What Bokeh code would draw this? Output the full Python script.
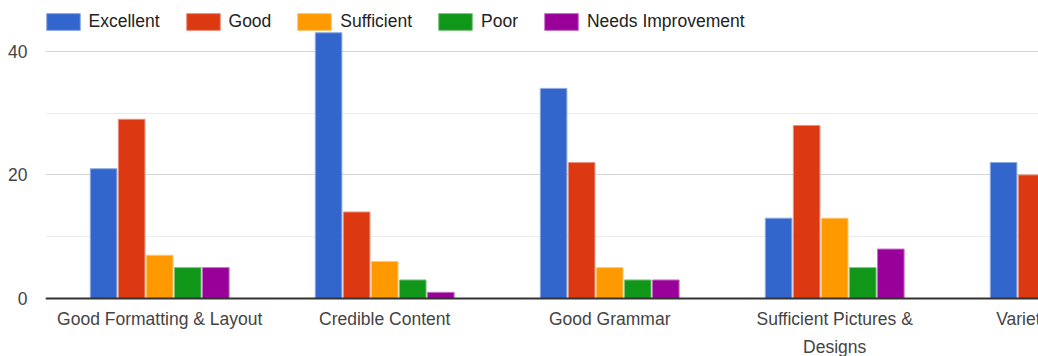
from bokeh.plotting import figure
from bokeh.models import (ColumnDataSource, Legend, LegendItem, Label, Span,
                          SingleIntervalTicker, Range1d)
from bokeh.embed import file_html
from bokeh.resources import INLINE
import numpy as np

# Survey ratings per criterion
categories = ["Good Formatting & Layout", "Credible Content", "Good Grammar",
              "Sufficient Pictures &\nDesigns", "Variety of Topics"]
series = ["Excellent", "Good", "Sufficient", "Poor", "Needs Improvement"]
excellent = [21, 43, 34, 13, 22]
good = [29, 14, 22, 28, 20]
sufficient = [7, 6, 5, 13, np.nan]
poor = [5, 3, 3, 5, np.nan]
needs_improvement = [5, 1, 3, 8, np.nan]
values = [excellent, good, sufficient, poor, needs_improvement]

colors = ["#3366cc", "#dc3912", "#ff9900", "#109618", "#990099"]
y_tick_interval = 20

FONT = "Liberation Sans"
FONT_SIZE = "17.5px"
PX_PER_UNIT = 6.18
PLOT_H = 356
BASE_PX = 298          # pixel row of the zero line
FRAME_W = 1038 - 45
BAND_PX = 225.0


def lighten(hex_color, amount=0.45):
    h = hex_color.lstrip("#")
    r, g, b = (int(h[i:i + 2], 16) for i in (0, 2, 4))
    r, g, b = (int(c + (255 - c) * amount) for c in (r, g, b))
    return "#%02x%02x%02x" % (r, g, b)


x0 = -0.0076
# the frame runs to the bottom edge so the category labels sit inside it
p = figure(width=1038, height=PLOT_H, output_backend="svg", toolbar_location=None,
           x_range=Range1d(x0, x0 + FRAME_W / BAND_PX),
           y_range=Range1d(-(PLOT_H - BASE_PX) / PX_PER_UNIT, BASE_PX / PX_PER_UNIT),
           min_border_left=45, min_border_right=0, min_border_top=0,
           min_border_bottom=0)
p.outline_line_color = None
p.background_fill_color = "white"
p.border_fill_color = "white"

centers = np.arange(len(categories)) + 0.5
slot = 28.06 / BAND_PX
bar_w = 26.6 / BAND_PX

items = []
for j, (name, vals, col) in enumerate(zip(series, values, colors)):
    src = ColumnDataSource(dict(x=centers + (j - 2) * slot, top=vals))
    r = p.vbar(x="x", top="top", bottom=0, width=bar_w, source=src,
               fill_color=col, line_color=lighten(col), line_width=1)
    items.append(LegendItem(label=name, renderers=[r]))

# baseline at zero
p.add_layout(Span(location=0, dimension="width", line_color="#333333", line_width=2))

# axes
p.xaxis.visible = False
p.xgrid.grid_line_color = None
yax = p.yaxis[0]
yax.ticker = SingleIntervalTicker(interval=y_tick_interval, num_minor_ticks=2)
yax.axis_line_color = None
yax.major_tick_line_color = None
yax.minor_tick_line_color = None
yax.major_tick_out = 0
yax.major_tick_in = 0
yax.minor_tick_out = 0
yax.major_label_standoff = 18
yax.major_label_text_font = FONT
yax.major_label_text_font_size = FONT_SIZE
yax.major_label_text_color = "#444444"
p.ygrid.grid_line_color = "#d4d4d4"
p.ygrid.minor_grid_line_color = "#ebebeb"

# category labels under each group
for cx, name in zip(centers, categories):
    p.add_layout(Label(x=cx, y=-1.7, text=name,
                       text_align="center", text_baseline="top",
                       text_font=FONT, text_font_size=FONT_SIZE,
                       text_color="#444444", text_line_height=1.38))

legend = Legend(items=items, orientation="horizontal",
                location=(-3.5, PLOT_H - 31.5),
                glyph_width=42, glyph_height=21, label_standoff=5, spacing=22,
                padding=0, margin=0, border_line_color=None,
                background_fill_alpha=0, label_text_font=FONT,
                label_text_font_size=FONT_SIZE, label_text_color="#222222",
                label_height=21)
p.add_layout(legend)

open("out.html", "w").write(file_html(p, INLINE))
